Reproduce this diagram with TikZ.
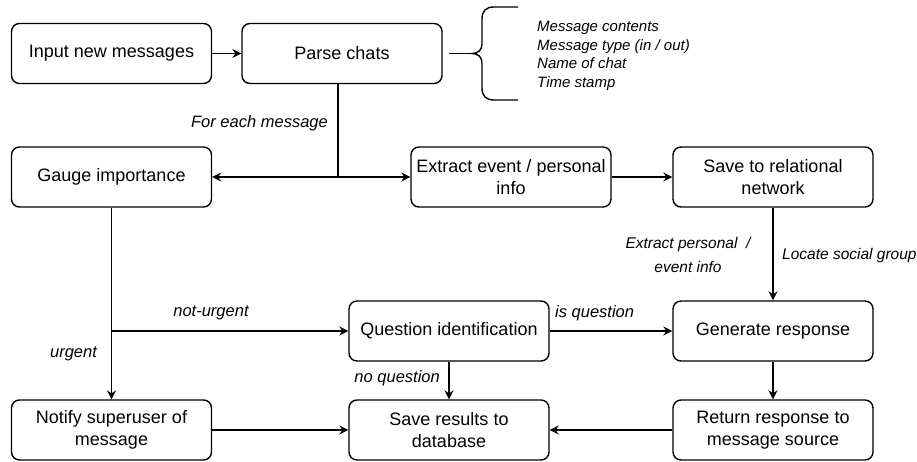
\documentclass[tikz,border=0pt]{standalone}
\usepackage{fontspec}
\setmainfont{Liberation Sans}
\usetikzlibrary{arrows.meta}
\begin{document}
\begin{tikzpicture}[x=1pt,y=-1pt,
  box/.style={draw=black, line width=1.4pt, rounded corners=8pt, fill=white,
    minimum width=200pt, minimum height=60pt, align=center, inner sep=2pt,
    font=\fontsize{18}{22.5}\selectfont},
  conn/.style={line width=1.4pt, draw=black},
  arr/.style={conn, -{Stealth[length=9pt,width=9pt,inset=3pt]}},
  lbl/.style={font=\fontsize{16.5}{23.5}\selectfont\itshape, inner sep=0pt, align=center},
  smalllbl/.style={lbl, font=\fontsize{15.5}{23.5}\selectfont\itshape},
  note/.style={font=\fontsize{15}{18.5}\selectfont\itshape, inner sep=0pt, align=left}
]
\useasboundingbox (0,0) rectangle (917,462);

% process steps
\node[box] (input)    at (111.5,53.5) {Input new messages};
\node[box] (parse)    at (342,53.5)   {Parse chats};
\node[box] (gauge)    at (111.5,177)  {Gauge importance};
\node[box] (extract)  at (511,177)    {Extract event / personal\\info};
\node[box] (relnet)   at (773,177)    {Save to relational\\network};
\node[box] (question) at (449,331)    {Question identification};
\node[box] (generate) at (773,331)    {Generate response};
\node[box] (notify)   at (111.5,430)  {Notify superuser of\\message};
\node[box] (results)  at (449,430)    {Save results to\\database};
\node[box] (reply)    at (773,430)    {Return response to\\message source};

% parsed fields, grouped by a brace
\coordinate (bracetip) at (472,53.5);
\draw[conn] ([xshift=6pt]parse.east) -- (bracetip);
\draw[conn] (518,7) -- (494,7) .. controls (486,7) and (482,11) .. (482,19)
  -- (482,44) .. controls (482,50) and (478,53.5) .. (bracetip)
  .. controls (478,53.5) and (482,57) .. (482,63)
  -- (482,88) .. controls (482,96) and (486,100) .. (494,100) -- (518,100);
\node[note, anchor=west] (fields) at (537,56)
  {Message contents\\Message type (in / out)\\Name of chat\\Time stamp};

% flow
\draw[arr] (input) -- (parse);

\coordinate (split) at (338,177);
\draw[conn] (parse.south -| split) -- (split);
\draw[arr] (split) -- (gauge.east);
\draw[arr] (split) -- (extract.west);
\node[lbl, anchor=east] (foreach) at (328,123) {For each message};

\draw[arr] (extract) -- (relnet);

\coordinate (branch) at (gauge.south |- question.west);
\draw[arr] (gauge.south) -- (notify.north);
\draw[arr] (branch) -- (question.west);
\node[lbl] (noturgent) at (211,313) {not-urgent};
\node[lbl] (urgent) at (73.5,354) {urgent};

\draw[arr] (question) -- (generate);
\node[lbl, anchor=west] (isq) at (555,313) {is question};

\draw[arr] (question) -- (results);
\node[lbl, anchor=east] (noq) at (440,378) {no question};

\draw[arr] (relnet) -- (generate);
\node[smalllbl] (extractinfo) at (688,255) {Extract personal \ /\\event info};
\node[smalllbl, anchor=west] (locate) at (782,255) {Locate social group};

\draw[arr] (generate) -- (reply);
\draw[arr] (notify) -- (results);
\draw[arr] (reply) -- (results);
\end{tikzpicture}
\end{document}
